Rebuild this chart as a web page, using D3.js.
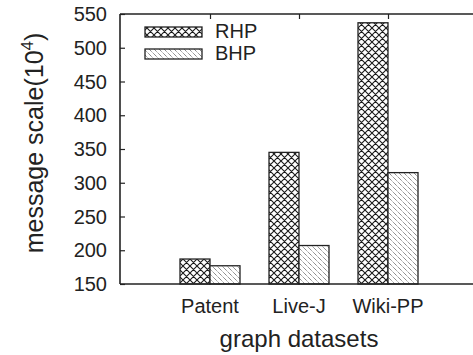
<!DOCTYPE html>
<html>
<head>
<meta charset="utf-8">
<script src="https://cdn.jsdelivr.net/npm/d3@7"></script>
<style>
  html, body { margin: 0; padding: 0; background: #fff; }
  svg { display: block; }
  text { font-family: "Liberation Sans", Arial, sans-serif; fill: #222; }
</style>
</head>
<body>
<svg id="chart" width="473" height="355"></svg>
<script>
// Message scale (x10^4) per graph dataset
const datasets = ["Patent", "Live-J", "Wiki-PP"];
const seriesNames = ["RHP", "BHP"];
const rhpValues = [187, 345, 537];
const bhpValues = [177, 207, 315];
const yTicks = [150, 200, 250, 300, 350, 400, 450, 500, 550];

const svg = d3.select("#chart");
const margin = { left: 120, top: 14, right: 0, bottom: 71 };
const W = 473, H = 355;
const plotW = W - margin.left - margin.right;
const plotH = H - margin.top - margin.bottom;

const defs = svg.append("defs");
// cross-hatch fill
const cross = defs.append("pattern").attr("id", "pat-rhp")
  .attr("patternUnits", "userSpaceOnUse").attr("width", 7).attr("height", 7);
cross.append("rect").attr("width", 7).attr("height", 7).attr("fill", "#fff");
cross.append("path").attr("d", "M0,0L7,7M7,0L0,7M-1,6L1,8M6,-1L8,1")
  .attr("stroke", "#1a1a1a").attr("stroke-width", 1.1);
// sparse diagonal hatch
const diag = defs.append("pattern").attr("id", "pat-bhp")
  .attr("patternUnits", "userSpaceOnUse").attr("width", 5).attr("height", 5);
diag.append("rect").attr("width", 5).attr("height", 5).attr("fill", "#fff");
diag.append("path").attr("d", "M0,0L5,5M-1,4L1,6M4,-1L6,1")
  .attr("stroke", "#333").attr("stroke-width", 0.7).attr("stroke-dasharray", "1.2,0.8");

const fills = ["url(#pat-rhp)", "url(#pat-bhp)"];

const g = svg.append("g").attr("transform", `translate(${margin.left},${margin.top})`);

const y = d3.scaleLinear().domain([150, 550]).range([plotH, 0]);
const x = d3.scalePoint().domain(datasets).range([90, 268]);
const barW = 30;

// bars
const seriesData = [rhpValues, bhpValues];
seriesData.forEach((vals, si) => {
  g.selectAll(".bar-" + si).data(datasets).enter().append("rect")
    .attr("x", d => x(d) + (si === 0 ? -barW : 0))
    .attr("y", (d, i) => y(vals[i]))
    .attr("width", barW)
    .attr("height", (d, i) => y(150) - y(vals[i]))
    .attr("fill", fills[si])
    .attr("stroke", "#222").attr("stroke-width", 1.3);
});

// frame lines (left, top, bottom)
const frame = g.append("g").attr("stroke", "#222").attr("stroke-width", 1.6).attr("fill", "none");
frame.append("line").attr("x1", 0).attr("x2", 0).attr("y1", 0).attr("y2", plotH);
frame.append("line").attr("x1", 0).attr("x2", plotW).attr("y1", 0).attr("y2", 0);
frame.append("line").attr("x1", 0).attr("x2", plotW).attr("y1", plotH).attr("y2", plotH);

// y axis with inward ticks
const yAxis = d3.axisRight(y).tickValues(yTicks).tickSize(5).tickFormat("");
const ya = g.append("g").call(yAxis);
ya.select(".domain").remove();
ya.selectAll("line").attr("stroke", "#222").attr("stroke-width", 1.2);
g.append("g").selectAll("text").data(yTicks).enter().append("text")
  .attr("x", -13).attr("y", d => y(d)).attr("dy", "0.36em")
  .attr("text-anchor", "end").attr("font-size", 20).text(d => d);

// top ticks at category centers
const topAxis = d3.axisBottom(x).tickSize(5).tickFormat("");
const ta = g.append("g").call(topAxis);
ta.select(".domain").remove();
ta.selectAll("line").attr("stroke", "#222").attr("stroke-width", 1.2);

// x category labels
g.append("g").selectAll("text").data(datasets).enter().append("text")
  .attr("x", d => x(d)).attr("y", plotH + 29)
  .attr("text-anchor", "middle").attr("font-size", 20).text(d => d);

// axis titles
svg.append("text").attr("x", 299).attr("y", 347).attr("text-anchor", "middle")
  .attr("font-size", 24).text("graph datasets");
const yt = svg.append("text")
  .attr("transform", "translate(43,143) rotate(-90)")
  .attr("text-anchor", "middle").attr("font-size", 25);
yt.append("tspan").text("message scale(10");
yt.append("tspan").attr("font-size", 17).attr("dy", -10).text("4");
yt.append("tspan").attr("dy", 10).text(")");

// legend
const legend = svg.append("g");
seriesNames.forEach((name, i) => {
  const ly = 27 + i * 22;
  legend.append("rect").attr("x", 145).attr("y", ly).attr("width", 57).attr("height", 10)
    .attr("fill", fills[i]).attr("stroke", "#222").attr("stroke-width", 1.3);
  legend.append("text").attr("x", 215).attr("y", ly + 11)
    .attr("font-size", 20).text(name);
});
</script>
</body>
</html>
